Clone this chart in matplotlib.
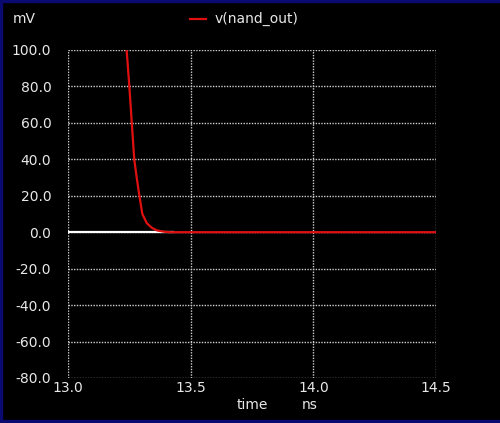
import matplotlib
matplotlib.use("Agg")
import matplotlib.pyplot as plt
from matplotlib.patches import Rectangle

# red trace v(nand_out), time in ns, value in mV
time_ns = [13.239, 13.250, 13.260, 13.270, 13.280, 13.291, 13.303, 13.321, 13.341,
           13.362, 13.390, 13.416, 13.6, 14.0, 14.5]
nand_mv = [100.0, 80.0, 60.0, 40.0, 30.0, 20.0, 10.0, 5.0, 2.5,
           1.0, 0.3, 0.0, 0.0, 0.0, 0.0]

# white trace at zero
white_t = [13.0, 13.43]
white_v = [0.0, 0.0]

x_ticks = [13.0, 13.5, 14.0, 14.5]
y_ticks = [100, 80, 60, 40, 20, 0, -20, -40, -60, -80]

fig = plt.figure(figsize=(5.0, 4.23), dpi=100, facecolor="black")
fig.patch.set_linewidth(0)
ax = fig.add_axes([0.136, 0.1064, 0.736, 0.7754], facecolor="black")

ax.plot(white_t, white_v, color="white", linewidth=1.6, zorder=3)
ax.plot(time_ns, nand_mv, color="#e01010", linewidth=1.6, zorder=4)

ax.set_xlim(13.0, 14.5)
ax.set_ylim(-80, 100)
ax.set_xticks(x_ticks)
ax.set_yticks(y_ticks)
ax.set_xticklabels([f"{v:.1f}" for v in x_ticks])
ax.set_yticklabels([f"{v:.1f}" for v in y_ticks])
ax.tick_params(colors="#e8e8e8", labelsize=10, length=0)
ax.tick_params(axis="y", pad=12)
ax.tick_params(axis="x", pad=2)

for s in ax.spines.values():
    s.set_visible(False)
ax.grid(True, color="#d0d0d0", linestyle=(0, (1, 1)), linewidth=1.0)
ax.set_axisbelow(True)

fig.text(0.026, 0.955, "mV", color="#e8e8e8", fontsize=10, va="center")
fig.lines.append(plt.Line2D([0.38, 0.412], [0.955, 0.955], color="#e01010",
                            linewidth=1.6, transform=fig.transFigure))
fig.text(0.43, 0.955, "v(nand_out)", color="#e8e8e8", fontsize=10, va="center")
fig.text(0.504, 0.042, "time", color="#e8e8e8", fontsize=10, ha="center", va="center")
fig.text(0.62, 0.042, "ns", color="#e8e8e8", fontsize=10, ha="center", va="center")

# navy window frame
navy = "#0a0a70"
fig.patches.append(Rectangle((0, 0.995), 1, 0.005, color=navy, transform=fig.transFigure))
fig.patches.append(Rectangle((0, 0), 0.004, 1, color=navy, transform=fig.transFigure))
fig.patches.append(Rectangle((0, 0), 1, 0.006, color=navy, transform=fig.transFigure))

fig.savefig("out.png", dpi=100, facecolor="black")
